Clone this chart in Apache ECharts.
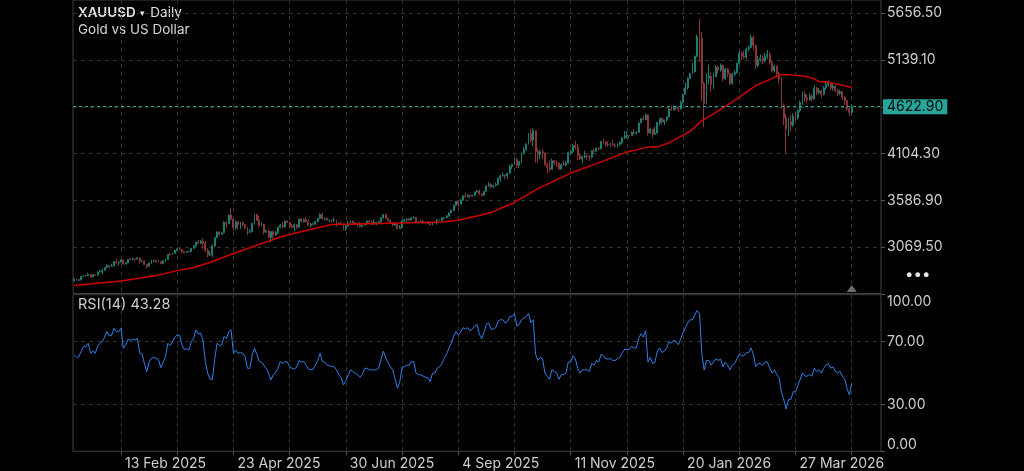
<!DOCTYPE html>
<html><head><meta charset="utf-8">
<script src="https://cdn.jsdelivr.net/npm/echarts@6/dist/echarts.min.js"></script>
<style>html,body{margin:0;padding:0;background:#000;}#c{width:1024px;height:471px;}</style>
</head><body><div id="c"></div>
<script>
// ---- categories ----
const START_DATE = '2025-01-16';
const HOLIDAYS = ['2025-04-18', '2025-12-25', '2026-01-01', '2026-04-03'];
const N_CATEGORIES = 345;
const MONTHS = ['Jan','Feb','Mar','Apr','May','Jun','Jul','Aug','Sep','Oct','Nov','Dec'];
const FIRST_LABEL_INDEX = 20, LABEL_STEP = 48, TICK_STEP = 24;
const PRICE_TICKS = [3069.5, 3586.9, 4104.3, 4621.7, 5139.1, 5656.5];
const RSI_TICKS = [0, 30, 70, 100];
const LAST_PRICE = 4622.90;

// ---- OHLC [open, close, low, high] ----
const ohlc = [
[2697,2715,2689,2724],[2715,2703,2697,2723],[2703,2708,2696,2715],[2708,2745,2702,2747],[2745,2755,2738,2763],
[2755,2755,2745,2763],[2755,2770,2752,2786],[2770,2740,2730,2772],[2740,2763,2738,2766],[2763,2760,2751,2770],
[2760,2794,2757,2799],[2794,2798,2790,2817],[2798,2815,2772,2830],[2815,2843,2810,2845],[2843,2867,2840,2882],
[2867,2856,2834,2870],[2856,2861,2852,2887],[2861,2908,2860,2911],[2908,2898,2880,2942],[2898,2904,2865,2910],
[2904,2928,2900,2934],[2928,2882,2877,2934],[2882,2898,2882,2904],[2898,2935,2895,2938],[2935,2934,2922,2947],
[2934,2939,2925,2955],[2939,2936,2918,2943],[2936,2951,2935,2956],[2951,2915,2890,2953],[2915,2916,2902,2922],
[2916,2877,2874,2924],[2877,2858,2833,2880],[2858,2893,2856,2896],[2893,2917,2884,2928],[2917,2920,2905,2930],
[2920,2911,2895,2926],[2911,2910,2897,2930],[2910,2889,2880,2914],[2889,2917,2880,2922],[2917,2934,2906,2940],
[2934,2988,2932,2990],[2988,2984,2978,3004],[2984,3001,2982,3004],[3001,3035,2998,3038],[3035,3048,3024,3057],
[3048,3044,3031,3057],[3044,3022,2999,3048],[3022,3011,3002,3025],[3011,3020,3008,3026],[3020,3019,3017,3035],
[3019,3057,3015,3060],[3057,3085,3056,3087],[3085,3124,3076,3128],[3124,3113,3101,3149],[3113,3134,3105,3148],
[3134,3114,3054,3168],[3114,3037,3015,3136],[3037,2982,2957,3055],[2982,2982,2970,3023],[2982,3083,2957,3099],
[3083,3175,3074,3176],[3175,3237,3170,3245],[3237,3211,3194,3245],[3211,3228,3205,3232],[3228,3342,3224,3357],
[3342,3327,3284,3357],[3327,3425,3327,3430],[3425,3381,3367,3500],[3381,3288,3260,3385],[3288,3349,3260,3367],
[3349,3319,3265,3350],[3319,3343,3268,3350],[3343,3317,3300,3352],[3317,3288,3268,3327],[3288,3239,3202,3292],
[3239,3241,3223,3269],[3241,3334,3231,3336],[3334,3431,3320,3437],[3431,3366,3365,3435],[3366,3306,3290,3415],
[3306,3325,3300,3345],[3325,3235,3208,3300],[3235,3248,3230,3265],[3248,3177,3170,3265],[3177,3241,3121,3245],
[3241,3202,3154,3252],[3202,3230,3205,3250],[3230,3290,3215,3295],[3290,3314,3285,3325],[3314,3294,3278,3345],
[3294,3357,3287,3366],[3357,3342,3338,3365],[3342,3300,3285,3350],[3300,3288,3276,3325],[3288,3318,3245,3330],
[3318,3289,3271,3326],[3289,3381,3285,3382],[3381,3353,3340,3392],[3353,3372,3342,3384],[3372,3352,3338,3403],
[3352,3310,3307,3375],[3310,3326,3293,3338],[3326,3323,3310,3345],[3323,3354,3316,3360],[3354,3386,3342,3389],
[3386,3432,3385,3446],[3432,3385,3376,3452],[3385,3388,3366,3398],[3388,3369,3362,3398],[3369,3369,3347,3372],
[3369,3368,3340,3375],[3368,3368,3347,3398],[3368,3322,3296,3371],[3322,3332,3312,3345],[3332,3328,3317,3350],
[3328,3274,3255,3330],[3274,3303,3248,3310],[3303,3338,3298,3358],[3338,3357,3331,3365],[3357,3326,3311,3365],
[3326,3337,3322,3345],[3337,3335,3296,3342],[3335,3302,3287,3346],[3302,3313,3282,3318],[3313,3324,3310,3330],
[3324,3355,3320,3369],[3355,3343,3340,3375],[3343,3324,3320,3366],[3324,3347,3319,3377],[3347,3339,3309,3352],
[3339,3350,3332,3361],[3350,3397,3345,3401],[3397,3431,3384,3434],[3431,3388,3381,3439],[3388,3368,3351,3393],
[3368,3337,3325,3373],[3337,3314,3301,3345],[3314,3326,3308,3334],[3326,3275,3268,3334],[3275,3289,3270,3315],
[3289,3363,3281,3364],[3363,3373,3347,3380],[3373,3381,3352,3390],[3381,3368,3363,3392],[3368,3396,3367,3400],
[3396,3398,3380,3408],[3398,3343,3341,3404],[3343,3348,3332,3356],[3348,3356,3345,3367],[3356,3335,3330,3375],
[3335,3336,3324,3345],[3336,3332,3322,3358],[3332,3315,3314,3345],[3315,3347,3311,3350],[3347,3339,3332,3351],
[3339,3372,3321,3378],[3372,3365,3358,3376],[3365,3393,3351,3394],[3393,3397,3375,3398],[3397,3416,3389,3423],
[3416,3448,3404,3454],[3448,3476,3446,3489],[3476,3533,3470,3540],[3533,3578,3528,3578],[3578,3545,3511,3580],
[3545,3587,3541,3600],[3587,3636,3584,3646],[3636,3626,3620,3675],[3626,3641,3620,3658],[3641,3634,3611,3645],
[3634,3643,3630,3653],[3643,3679,3633,3684],[3679,3690,3674,3703],[3690,3659,3645,3707],[3659,3643,3628,3667],
[3643,3685,3640,3687],[3685,3746,3682,3750],[3746,3763,3739,3791],[3763,3736,3718,3780],[3736,3749,3722,3761],
[3749,3760,3740,3782],[3760,3833,3758,3836],[3833,3858,3793,3872],[3858,3866,3848,3896],[3866,3856,3819,3875],
[3856,3887,3825,3890],[3887,3961,3883,3978],[3961,3985,3934,3990],[3985,4041,3980,4060],[4041,3976,3945,4060],
[3976,4018,3946,4022],[4018,4110,4000,4116],[4110,4143,4095,4180],[4143,4209,4140,4218],[4209,4327,4204,4330],
[4327,4251,4225,4380],[4251,4356,4185,4381],[4356,4125,4003,4360],[4125,4095,4004,4160],[4095,4126,4040,4146],
[4126,4112,4045,4160],[4112,3982,3970,4115],[3982,3952,3886,4005],[3952,3930,3905,4030],[3930,4025,3925,4050],
[4025,4003,3975,4033],[4003,4000,3960,4030],[4000,3932,3929,4002],[3932,3980,3930,3996],[3980,3977,3971,4028],
[3977,4000,3966,4022],[4000,4115,3997,4125],[4115,4127,4096,4149],[4127,4195,4105,4212],[4195,4172,4150,4245],
[4172,4084,4032,4211],[4084,4045,4032,4100],[4045,4067,3997,4080],[4067,4078,4052,4133],[4078,4077,4038,4098],
[4077,4065,4022,4090],[4065,4136,4050,4140],[4136,4131,4106,4154],[4131,4165,4125,4170],[4165,4156,4140,4175],
[4156,4240,4154,4245],[4240,4230,4210,4265],[4230,4205,4180,4240],[4205,4200,4180,4242],[4200,4208,4176,4220],
[4208,4198,4190,4260],[4198,4190,4170,4220],[4190,4208,4170,4218],[4208,4228,4190,4240],[4228,4279,4205,4286],
[4279,4300,4265,4353],[4300,4305,4271,4350],[4305,4302,4270,4310],[4302,4340,4300,4350],[4340,4332,4311,4375],
[4332,4338,4313,4350],[4338,4445,4335,4448],[4445,4490,4440,4498],[4490,4480,4470,4525],[4480,4532,4478,4550],
[4532,4332,4305,4535],[4332,4375,4327,4390],[4375,4319,4280,4375],[4319,4330,4310,4400],[4330,4448,4330,4452],
[4448,4495,4420,4500],[4495,4455,4425,4500],[4455,4478,4420,4480],[4478,4510,4460,4518],[4510,4597,4505,4630],
[4597,4588,4580,4635],[4588,4625,4590,4640],[4625,4615,4580,4630],[4615,4595,4560,4627],[4595,4670,4595,4690],
[4670,4760,4660,4765],[4760,4830,4755,4888],[4830,4935,4810,4950],[4935,4985,4930,5000],[4985,5010,4990,5110],
[5010,5180,5000,5190],[5180,5400,5170,5420],[5400,5380,5120,5596],[5380,4880,4680,5450],[4880,4660,4400,4900],
[4660,4940,4650,4990],[4940,4960,4870,5090],[4960,4870,4790,5000],[4870,4960,4820,5000],[4960,5060,4950,5080],
[5060,5030,4990,5080],[5030,5080,5010,5100],[5080,4930,4900,5090],[4930,5040,4920,5050],[5040,4990,4950,5050],
[4990,4880,4860,5000],[4880,4980,4870,5000],[4980,5000,4960,5030],[5000,5100,4990,5110],[5100,5210,5090,5240],
[5210,5180,5140,5230],[5180,5170,5150,5240],[5170,5260,5150,5280],[5260,5280,5230,5300],[5280,5390,5270,5420],
[5390,5300,5250,5410],[5300,5080,5040,5310],[5080,5140,5060,5180],[5140,5160,5120,5200],[5160,5130,5090,5190],
[5130,5180,5110,5220],[5180,5200,5150,5250],[5200,5110,5090,5230],[5110,5020,5000,5130],[5020,5070,5000,5090],
[5070,4990,4950,5080],[4990,4930,4880,5010],[4930,4640,4600,4950],[4640,4500,4420,4660],[4500,4380,4100,4540],
[4380,4460,4300,4500],[4460,4420,4350,4530],[4420,4520,4400,4550],[4520,4500,4460,4570],[4500,4580,4480,4600],
[4580,4670,4560,4690],[4670,4760,4640,4790],[4760,4720,4680,4790],[4720,4700,4660,4760],[4700,4740,4690,4770],
[4740,4710,4680,4760],[4710,4830,4700,4860],[4830,4780,4750,4840],[4780,4800,4760,4830],[4800,4760,4720,4810],
[4760,4830,4750,4850],[4830,4870,4810,4900],[4870,4890,4840,4915],[4890,4830,4800,4900],[4830,4850,4800,4880],
[4850,4800,4780,4870],[4800,4770,4740,4820],[4770,4790,4750,4810],[4790,4730,4700,4800],[4730,4690,4640,4740],
[4690,4600,4580,4700],[4600,4560,4520,4620],[4560,4622.9,4540,4650]
];

// ---- moving average (bar index, value) ----
const maPoints = [
[0,2645],[20,2695],[36,2760],[44,2810],[51,2845],[58,2900],[68,3000],[78,3090],[89,3190],[100,3260],
[110,3320],[131,3331],[157,3349],[164,3367],[173,3420],[178,3452],[187,3552],[198,3717],[212,3889],[223,3993],
[236,4121],[245,4176],[249,4176],[254,4225],[263,4350],[268,4470],[273,4544],[283,4710],[291,4857],[297,4923],
[301,4975],[306,4975],[313,4956],[316,4930],[318,4900],[321,4900],[327,4867],[332,4835]
];

// ---- RSI(14) ----
const rsi = [
61.5,60,60.4,64,66.8,67,69,62.6,64,62.6,67,69,70,73,76.4,73.7,74,78.6,76.4,76.4,
78.6,65.8,68,71.6,71,71.5,71,72,62.6,62,56,50.9,57,59.4,60,59.4,58.5,53.4,57,60.4,
69,67.5,70,73,74.3,74,68,65,65.5,64.6,70,72,77.5,75,75.4,70.9,57.3,50,46,46,
58.6,69,67.6,68,73.4,72,76.4,77.5,62.6,64.6,62.6,63,62.6,60.4,53,53,61.5,65.8,62,57.3,
57,55,53,49.8,45.6,48.8,50.5,53,57.3,56,57.3,57,54.1,53,52.5,53.7,58,57,57.3,55,
52.6,52,52.5,55,58,62.6,57.3,57,55,54.5,54.3,54,52,48.8,47,42.4,45,48.8,52,51,
49.8,49,47.3,49,53,53,52,52,52,52,53,58.6,63.9,60,56.6,54,52,46.5,40.3,44,
53.7,54,55,55,57.3,57.3,49.8,49,48.8,48,47.3,47,44.5,49.8,50,53,54,56,59.4,62,
65.8,69,73.4,76.4,74.3,76,79,78,79,77,78,80,81,75,72,76,81,82,78,78,
79,83,84,84,82,83,86,86,88,80,81,84,85,86,88,82,84,62,58,60,
59,50,48,46,52,51,50,46,49,49,50,57,57,61,59,53,50,52,52,52,
51,56,55,58,57,62,61,59,59,59,58,58,59,60,63,65,65,65,67,66,
66,72,75,73,77,57,60,56,57,64,66,63,64,66,70,69,71,70,68,72,
76,79,82,84,84,87,90,88,62,52,58,58,55,57,59,58,59,54,57,55,
52,55,56,59,62,61,61,63,63,66,62,54,56,56,55,57,57,53,50,52,
49,47,38,33,27,33,33,38,38,42,46,50,48,48,49,48,53,51,52,50,
53,55,56,53,54,51,50,51,48,46,40,36,43.28
];

// build trading-day categories
const categories = [];
(function () {
  const d = new Date(START_DATE + 'T00:00:00Z');
  while (categories.length < N_CATEGORIES) {
    const wd = d.getUTCDay();
    const s = d.toISOString().slice(0, 10);
    if (wd !== 0 && wd !== 6 && HOLIDAYS.indexOf(s) < 0) categories.push(s);
    d.setUTCDate(d.getUTCDate() + 1);
  }
})();
function fmtDate(s) { const p = s.split('-'); return (+p[2]) + ' ' + MONTHS[+p[1] - 1] + ' ' + p[0]; }
const isLabel = (i) => i >= FIRST_LABEL_INDEX && (i - FIRST_LABEL_INDEX) % LABEL_STEP === 0;
const isTick = (i) => i >= 0 && (i - FIRST_LABEL_INDEX) % TICK_STEP === 0;

const FONT = 'Inter, "Noto Sans", sans-serif';
const GRID_LINE = '#323232';
const BORDER = '#3f3f3f';
const TEXT = '#cfcfcf';
const UP = '#1b7c72', DOWN = '#8c3535', TEAL = '#26a69a';
const MAIN_MIN = 2556.9, MAIN_MAX = 5803.1;
const lastIdx = ohlc.length - 1;

const chart = echarts.init(document.getElementById('c'), null, { renderer: 'canvas' });
const xCommon = {
  type: 'category', data: categories, boundaryGap: true,
  axisLine: { show: false },
  splitLine: { show: true, interval: (i) => isTick(i), alignWithLabel: true, lineStyle: { color: GRID_LINE, type: [4, 4], width: 1 } }
};
chart.setOption({
  backgroundColor: '#000',
  animation: false,
  textStyle: { fontFamily: FONT },
  grid: [
    { left: 73, right: 143, top: -1, height: 294.5, show: true, borderColor: BORDER, borderWidth: 1, backgroundColor: 'transparent' },
    { left: 73, right: 143, top: 294.7, height: 156.6, show: true, borderColor: BORDER, borderWidth: 1, backgroundColor: 'transparent' }
  ],
  xAxis: [
    Object.assign({}, xCommon, { gridIndex: 0, axisTick: { show: false }, axisLabel: { show: false } }),
    Object.assign({}, xCommon, {
      gridIndex: 1,
      axisTick: { show: true, alignWithLabel: true, interval: (i) => isTick(i), length: 4, lineStyle: { color: '#555' } },
      axisLabel: { show: true, interval: (i) => isLabel(i), formatter: (v) => fmtDate(v), align: 'left', padding: [0, 0, 0, 4], margin: 5, color: TEXT, fontSize: 14, fontFamily: FONT }
    })
  ],
  yAxis: [
    {
      gridIndex: 0, type: 'value', position: 'right', min: MAIN_MIN, max: MAIN_MAX, scale: true,
      axisLine: { show: false },
      axisTick: { show: true, length: 4, customValues: PRICE_TICKS, lineStyle: { color: '#555' } },
      axisLabel: { show: true, customValues: PRICE_TICKS, margin: 6, color: TEXT, fontSize: 14, fontFamily: FONT,
        formatter: (v) => (Math.abs(v - 4621.7) < 0.01 ? '' : v.toFixed(2)) },
      splitLine: { show: true, lineStyle: { color: GRID_LINE, type: [4, 4] } }
    },
    {
      gridIndex: 1, type: 'value', position: 'right', min: 0, max: 100,
      axisLine: { show: false },
      axisTick: { show: true, length: 4, customValues: RSI_TICKS, lineStyle: { color: '#555' } },
      axisLabel: { show: true, customValues: RSI_TICKS, margin: 6, color: TEXT, fontSize: 14, fontFamily: FONT,
        verticalAlignMaxLabel: 'top', verticalAlignMinLabel: 'bottom', formatter: (v) => v.toFixed(2) },
      splitLine: { show: true, lineStyle: { color: GRID_LINE, type: [4, 4] } }
    }
  ],
  graphic: [
    { type: 'text', left: 78, top: 6, style: { text: '{b|XAUUSD} {a|▾} {n|Daily}', rich: {
        b: { fontSize: 13.5, fontWeight: 600, fill: '#e6e6e6', fontFamily: FONT },
        a: { fontSize: 9, fill: '#e6e6e6', fontFamily: FONT, padding: [0, 2, 0, 1] },
        n: { fontSize: 13.5, fill: '#e0e0e0', fontFamily: FONT } } } },
    { type: 'text', left: 78, top: 23, style: { text: 'Gold vs US Dollar', fontSize: 13.5, fill: '#d6d6d6', fontFamily: FONT } },
    { type: 'text', left: 78, top: 297, style: { text: 'RSI(14) ' + rsi[rsi.length - 1].toFixed(2), fontSize: 14.5, fill: '#cfcfcf', fontFamily: FONT } },
    { type: 'text', left: 905, top: 267, style: { text: '•••', fontSize: 15, fill: '#e8e8e8', fontFamily: FONT } }
  ],
  series: [
    {
      type: 'candlestick', xAxisIndex: 0, yAxisIndex: 0, data: ohlc, barWidth: '60%',
      itemStyle: { color: UP, color0: DOWN, borderColor: UP, borderColor0: DOWN, borderWidth: 1 },
      markLine: {
        silent: true, symbol: 'none', animation: false,
        lineStyle: { color: TEAL, type: [3, 3], width: 1 },
        label: { show: true, position: 'end', distance: 2, formatter: () => LAST_PRICE.toFixed(2),
          backgroundColor: TEAL, color: '#0a0a0a', fontSize: 14, fontFamily: FONT, padding: [1, 4, 0, 4] },
        data: [{ yAxis: LAST_PRICE }]
      },
      markPoint: {
        silent: true, animation: false,
        data: [{ coord: [lastIdx, MAIN_MIN], symbol: 'triangle', symbolSize: [10, 7], symbolOffset: [0, -5],
          itemStyle: { color: '#6e6e6e' }, label: { show: false } }]
      }
    },
    {
      type: 'line', xAxisIndex: 0, yAxisIndex: 0, data: maPoints, showSymbol: false, symbol: 'none',
      lineStyle: { color: '#d00000', width: 1.5 }, z: 3
    },
    {
      type: 'line', xAxisIndex: 1, yAxisIndex: 1, data: rsi, showSymbol: false, symbol: 'none',
      lineStyle: { color: '#2f7fe8', width: 1 }
    }
  ]
});
</script>
</body></html>
